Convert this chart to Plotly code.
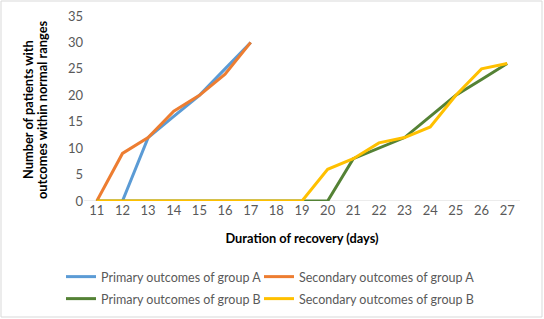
import plotly.graph_objects as go

days = list(range(11, 28))
primary_a = [None, 0, 12, 16, 20, 25, 30] + [None] * 10
secondary_a = [0, 9, 12, 17, 20, 24, 30] + [None] * 10
primary_b = [0] * 10 + [8, 10, 12, 16, 20, 23, 26]
secondary_b = [0] * 9 + [6, 8, 11, 12, 14, 20, 25, 26]

series = [
    ("Primary outcomes of group A", primary_a, "#5B9BD5", "legend"),
    ("Secondary outcomes of group A", secondary_a, "#ED7D31", "legend2"),
    ("Primary outcomes of group B", primary_b, "#548235", "legend3"),
    ("Secondary outcomes of group B", secondary_b, "#FFC000", "legend4"),
]

fig = go.Figure()
for name, vals, color, lg in series:
    fig.add_trace(go.Scatter(x=days, y=vals, name=name, mode="lines", legend=lg,
                             line=dict(color=color, width=3), connectgaps=False))

W, H = 544, 319
L, R, T, B = 84, 24, 16, 118
pw, ph = W - L - R, H - T - B

def px(x):
    return (x - L) / pw

def py(y):
    return (H - B - y) / ph

leg_common = dict(orientation="h", xanchor="left", yanchor="middle",
                  font=dict(family="Lato", size=12.5, color="#595959"),
                  itemwidth=30, bgcolor="rgba(0,0,0,0)")

fig.update_layout(
    width=W, height=H,
    margin=dict(l=L, r=R, t=T, b=B, autoexpand=False),
    paper_bgcolor="white", plot_bgcolor="white",
    font=dict(family="Lato", size=13, color="#595959"),
    showlegend=True,
    legend=dict(x=px(61), y=py(277), **leg_common),
    legend2=dict(x=px(259), y=py(277), **leg_common),
    legend3=dict(x=px(61), y=py(299), **leg_common),
    legend4=dict(x=px(259), y=py(299), **leg_common),
    xaxis=dict(range=[10.5, 27.5], tickmode="array", tickvals=days,
               ticktext=[str(d) for d in days], showgrid=False, zeroline=False,
               showline=False, ticks="", automargin=False,
               tickfont=dict(size=13, color="#595959"),
               title=dict(text="<b>Duration of recovery (days)</b>",
                          font=dict(size=12.8, color="black"), standoff=17)),
    yaxis=dict(range=[0, 35], dtick=5, showgrid=False, zeroline=False,
               showline=False, ticks="", automargin=False,
               tickfont=dict(size=13, color="#595959")),
    annotations=[
        dict(text="<b>Number of patients with</b>", xref="paper", yref="paper",
             x=px(28), y=py(110), textangle=-90, showarrow=False,
             font=dict(family="Lato", size=12.8, color="black"),
             xanchor="center", yanchor="middle"),
        dict(text="<b>outcomes within normal ranges</b>", xref="paper", yref="paper",
             x=px(42), y=py(110), textangle=-90, showarrow=False,
             font=dict(family="Lato", size=12.8, color="black"),
             xanchor="center", yanchor="middle"),
    ],
    shapes=[
        dict(type="line", xref="x", yref="y", x0=10.5, x1=27.5, y0=0, y1=0,
             line=dict(color="#D9D9D9", width=1), layer="below"),
        dict(type="rect", xref="paper", yref="paper",
             x0=px(1), x1=px(542), y0=py(317), y1=py(1),
             line=dict(color="#D9D9D9", width=1)),
    ],
)

fig.write_html("out.html", config={"displayModeBar": False},
               post_script="document.body.style.margin='0';document.body.style.overflow='hidden';")
